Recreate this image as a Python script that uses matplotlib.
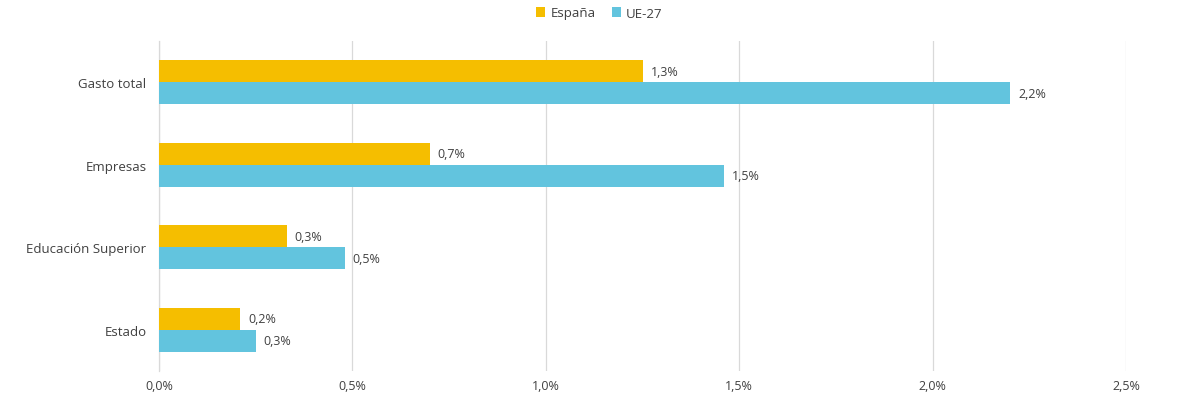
import matplotlib
matplotlib.use("Agg")
import matplotlib.pyplot as plt
import numpy as np

plt.rcParams['font.family'] = ['Open Sans', 'DejaVu Sans']

categories = ["Gasto total", "Empresas", "Educación Superior", "Estado"]
espana = [1.25, 0.70, 0.33, 0.21]
ue27 = [2.20, 1.46, 0.48, 0.25]
xticks = [0.0, 0.5, 1.0, 1.5, 2.0, 2.5]
series_names = ["España", "UE-27"]

c_es = "#F5BE00"
c_ue = "#62C4DE"
txt = "#404040"

fig = plt.figure(figsize=(11.8, 4.14), dpi=100)
ax = fig.add_axes([159/1180, 1-372/414, (1126-159)/1180, 330/414])

y = np.arange(len(categories))
h = 0.264
b1 = ax.barh(y - h/2, espana, height=h, color=c_es, label=series_names[0], zorder=3)
b2 = ax.barh(y + h/2, ue27, height=h, color=c_ue, label=series_names[1], zorder=3)

def fmt(v):
    return f"{v + 1e-9:.1f}".replace(".", ",") + "%"

for bars, vals in ((b1, espana), (b2, ue27)):
    for bar, v in zip(bars, vals):
        ax.annotate(fmt(v), (bar.get_width(), bar.get_y() + bar.get_height()/2),
                    xytext=(5.8, 0), textcoords="offset points", va="center", ha="left",
                    fontsize=9, color=txt)

ax.set_ylim(len(categories) - 0.5, -0.5)
ax.set_yticks(y)
ax.set_yticklabels(categories, fontsize=9.5, color=txt)
ax.set_xlim(0, 2.5)
ax.set_xticks(xticks)
ax.set_xticklabels([f"{t:.1f}".replace(".", ",") + "%" for t in xticks], fontsize=9, color=txt)
ax.tick_params(axis='x', length=0, pad=6)
ax.tick_params(axis='y', length=0, pad=9)
ax.grid(axis='x', color="#D9D9D9", linewidth=0.9, zorder=0)
for s in ("top", "right", "bottom"):
    ax.spines[s].set_visible(False)
ax.spines["left"].set_color("#D9D9D9")
ax.spines["left"].set_linewidth(0.9)

fig.legend(handles=[b1, b2], labels=series_names, loc="center", bbox_to_anchor=(0.508, 1-14/414),
           ncol=2, frameon=False, fontsize=9.5, handlelength=0.7, handleheight=0.7,
           handletextpad=0.4, columnspacing=1.2, labelcolor=txt)

fig.savefig("out.png", dpi=100, facecolor="white")
